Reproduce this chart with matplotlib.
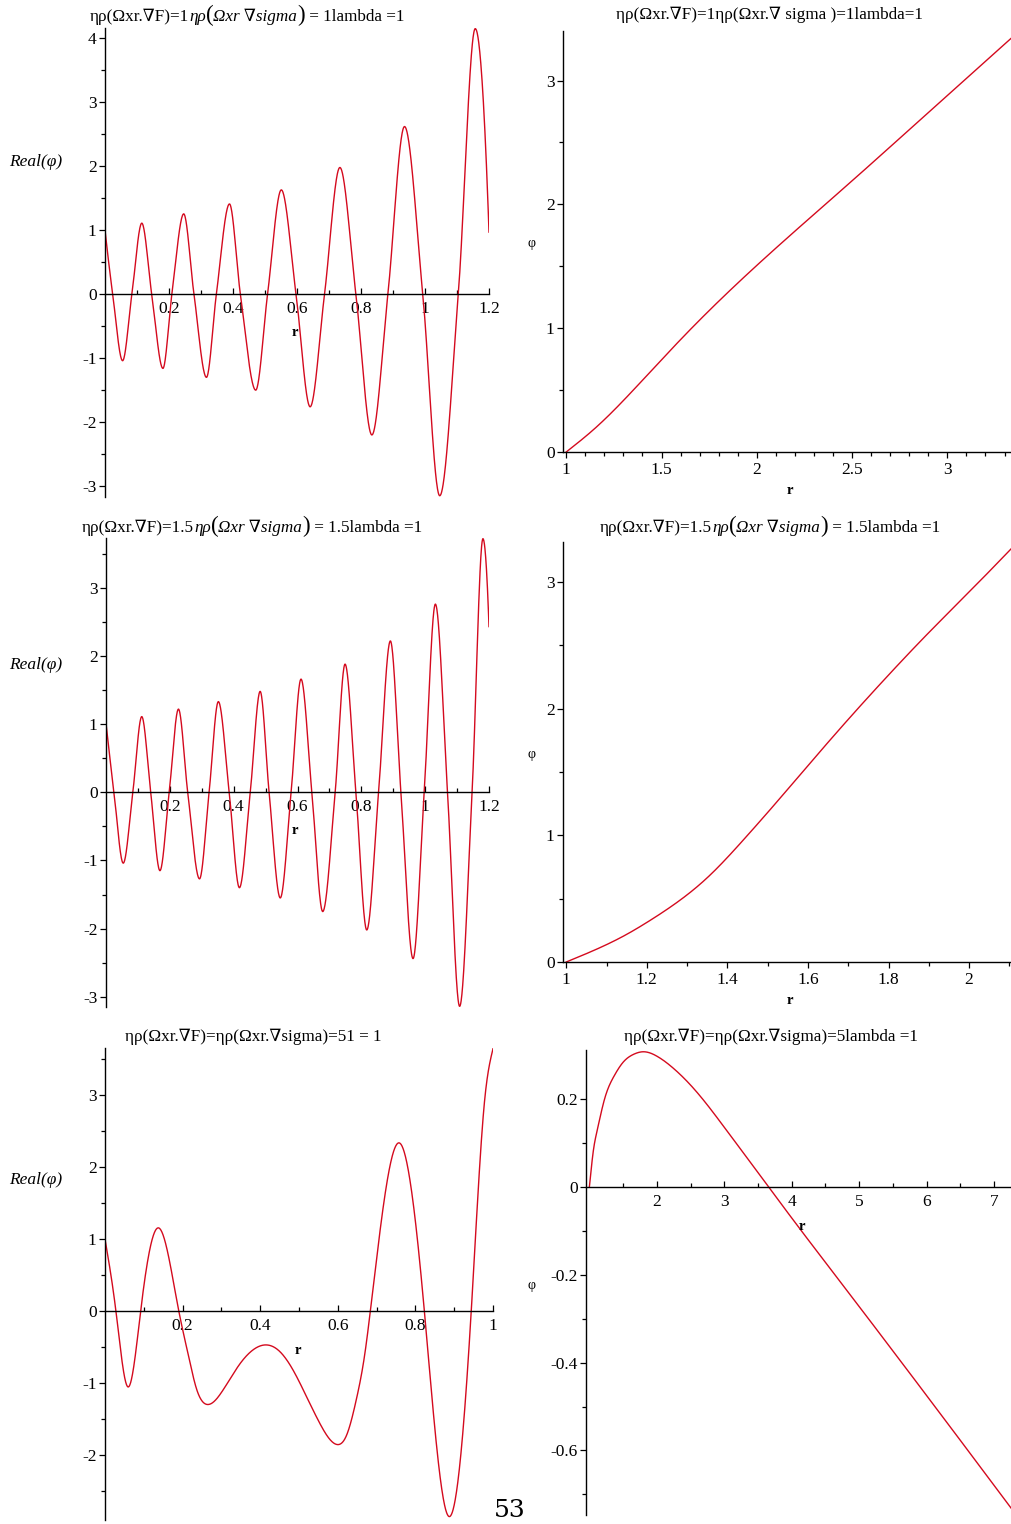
import numpy as np
import matplotlib
matplotlib.use("Agg")
import matplotlib.pyplot as plt
from matplotlib.ticker import FixedLocator, FixedFormatter
from matplotlib.offsetbox import TextArea, HPacker, AnchoredOffsetbox

plt.rcParams['axes.unicode_minus'] = False
SERIF = ['Liberation Serif', 'DejaVu Serif']
plt.rcParams['font.family'] = SERIF

# ---------------- data ----------------
# Panel 1: eta rho = 1 (oscillating, Real(phi))
p1_r = [0, 0.024, 0.055, 0.084, 0.115, 0.146, 0.181, 0.209, 0.246, 0.278, 0.317, 0.348,
        0.389, 0.423, 0.471, 0.508, 0.551, 0.597, 0.641, 0.686, 0.734, 0.784, 0.834,
        0.884, 0.936, 0.993, 1.046, 1.104, 1.157, 1.2]
p1_phi = [1.0, 0, -1.04, 0, 1.11, 0, -1.16, 0, 1.255, 0, -1.30, 0,
          1.41, 0, -1.50, 0, 1.63, 0, -1.76, 0, 1.98, 0, -2.20,
          0, 2.62, 0, -3.15, 0, 4.15, 0.97]

# Panel 2: eta rho = 1 (phi, r >= 1)
p2_r = [1.0, 1.15, 1.352, 1.5, 1.658, 2.0, 2.5, 3.0, 3.334]
p2_phi = [0, 0.19, 0.50, 0.745, 1.0, 1.507, 2.19, 2.88, 3.34]

# Panel 3: eta rho = 1.5 (oscillating, Real(phi))
p3_r = [0, 0.025, 0.054, 0.084, 0.112, 0.140, 0.169, 0.198, 0.227, 0.256, 0.293, 0.323,
        0.352, 0.386, 0.418, 0.452, 0.483, 0.511, 0.546, 0.580, 0.611, 0.645, 0.679,
        0.718, 0.749, 0.783, 0.817, 0.854, 0.891, 0.924, 0.962, 0.997, 1.032, 1.070,
        1.108, 1.147, 1.181, 1.2]
p3_phi = [1.01, 0, -1.04, 0, 1.11, 0, -1.15, 0, 1.22, 0, -1.27, 0,
          1.33, 0, -1.40, 0, 1.48, 0, -1.55, 0, 1.66, 0, -1.75,
          0, 1.88, 0, -2.02, 0, 2.22, 0, -2.44, 0, 2.76, 0,
          -3.14, 0, 3.72, 2.43]

# Panel 4: eta rho = 1.5 (phi, r >= 1)
p4_r = [1.0, 1.05, 1.1, 1.15, 1.2, 1.25, 1.3, 1.35, 1.4, 1.45, 1.5, 1.6, 1.7, 1.8, 1.9,
        2.0, 2.104]
p4_phi = [0, 0.066, 0.137, 0.218, 0.312, 0.415, 0.530, 0.665, 0.825, 1.0, 1.18, 1.55,
          1.915, 2.265, 2.60, 2.92, 3.26]

# Panel 5: eta rho = 5 (Real(phi))
p5_r = [0, 0.028, 0.059, 0.092, 0.138, 0.190, 0.215, 0.236, 0.265, 0.301, 0.345, 0.379,
        0.412, 0.448, 0.483, 0.518, 0.552, 0.578, 0.597, 0.622, 0.648, 0.669, 0.684,
        0.759, 0.823, 0.886, 0.944, 0.978, 1.0]
p5_phi = [0.995, 0, -1.06, 0, 1.15, 0, -0.625, -1.09, -1.305, -1.13, -0.76, -0.556,
          -0.477, -0.556, -0.81, -1.18, -1.55, -1.78, -1.86, -1.74, -1.23, -0.625, 0,
          2.33, 0, -2.86, 0, 2.90, 3.64]

# Panel 6: eta rho = 5 (phi, r >= 1)
p6_r = [1.0, 1.03, 1.06, 1.11, 1.23, 1.36, 1.505, 1.653, 1.80, 2.0, 2.248, 2.495, 2.743,
        3.0, 3.238, 3.485, 3.658, 3.88, 4.129, 4.69, 5.68, 6.67, 7.25]
p6_phi = [0, 0.045, 0.084, 0.125, 0.203, 0.251, 0.285, 0.302, 0.308, 0.298, 0.270, 0.233,
          0.188, 0.136, 0.087, 0.036, 0, -0.046, -0.097, -0.210, -0.410, -0.612, -0.731]

# tick values / labels
osc_xticks = [0.2, 0.4, 0.6, 0.8, 1, 1.2]
osc_xlabels = ['0.2', '0.4', '0.6', '0.8', '1', '1.2']
p1_yticks = [-3, -2, -1, 0, 1, 2, 3, 4]
p3_yticks = [-3, -2, -1, 0, 1, 2, 3]
p5_xticks = [0.2, 0.4, 0.6, 0.8, 1]
p5_xlabels = ['0.2', '0.4', '0.6', '0.8', '1']
p5_yticks = [-2, -1, 0, 1, 2, 3]
p2_xticks = [1, 1.5, 2, 2.5, 3]
p2_xlabels = ['1', '1.5', '2', '2.5', '3']
p4_xticks = [1, 1.2, 1.4, 1.6, 1.8, 2]
p4_xlabels = ['1', '1.2', '1.4', '1.6', '1.8', '2']
pos_yticks = [0, 1, 2, 3]
p6_xticks = [2, 3, 4, 5, 6, 7]
p6_xlabels = ['2', '3', '4', '5', '6', '7']
p6_yticks = [-0.6, -0.4, -0.2, 0, 0.2]
p6_ylabels = ['-0.6', '-0.4', '-0.2', '0', '0.2']

titles = [
    [("ηρ(Ωxr.∇F)=1", 'n'), ("ηρ", 'i'), ("(", 'p'), ("Ωxr ∇sigma", 'i'), (")", 'p'), (" = 1lambda =1", 'n')],
    [("ηρ(Ωxr.∇F)=1ηρ(Ωxr.∇ sigma )=1lambda=1", 'n')],
    [("ηρ(Ωxr.∇F)=1.5", 'n'), ("ηρ", 'i'), ("(", 'p'), ("Ωxr ∇sigma", 'i'), (")", 'p'), (" = 1.5lambda =1", 'n')],
    [("ηρ(Ωxr.∇F)=1.5", 'n'), ("ηρ", 'i'), ("(", 'p'), ("Ωxr ∇sigma", 'i'), (")", 'p'), (" = 1.5lambda =1", 'n')],
    [("ηρ(Ωxr.∇F)=ηρ(Ωxr.∇sigma)=51 = 1", 'n')],
    [("ηρ(Ωxr.∇F)=ηρ(Ωxr.∇sigma)=5lambda =1", 'n')],
]

# ---------------- helpers ----------------
W, H = 1011, 1524
fig = plt.figure(figsize=(W / 100, H / 100), dpi=100)
RED = '#d40a1e'
TICK_FS = 12.5


def hermite(x, y, m, n):
    h = np.diff(x)
    xs = np.linspace(x[0], x[-1], n)
    idx = np.clip(np.searchsorted(x, xs) - 1, 0, len(h) - 1)
    t = (xs - x[idx]) / h[idx]
    h00 = 2 * t**3 - 3 * t**2 + 1
    h10 = t**3 - 2 * t**2 + t
    h01 = -2 * t**3 + 3 * t**2
    h11 = t**3 - t**2
    ys = h00 * y[idx] + h10 * h[idx] * m[idx] + h01 * y[idx + 1] + h11 * h[idx] * m[idx + 1]
    return xs, ys


def pchip(x, y, n=1500):
    """Monotone cubic rendering through the read points (oscillating curves)."""
    x = np.asarray(x, float)
    y = np.asarray(y, float)
    h = np.diff(x)
    d = np.diff(y) / h
    m = np.zeros_like(y)
    for k in range(1, len(x) - 1):
        if d[k - 1] * d[k] <= 0:
            m[k] = 0.0
        else:
            w1 = 2 * h[k] + h[k - 1]
            w2 = h[k] + 2 * h[k - 1]
            m[k] = (w1 + w2) / (w1 / d[k - 1] + w2 / d[k])

    def end(h0, h1, d0, d1):
        mm = ((2 * h0 + h1) * d0 - h0 * d1) / (h0 + h1)
        if np.sign(mm) != np.sign(d0):
            return 0.0
        if np.sign(d0) != np.sign(d1) and abs(mm) > 3 * abs(d0):
            return 3 * d0
        return mm
    m[0] = end(h[0], h[1], d[0], d[1])
    m[-1] = end(h[-1], h[-2], d[-1], d[-2])
    return hermite(x, y, m, n)


def spline(x, y, n=1500):
    """Natural cubic spline rendering through the read points (smooth curves)."""
    x = np.asarray(x, float)
    y = np.asarray(y, float)
    N = len(x)
    h = np.diff(x)
    A = np.zeros((N, N))
    b = np.zeros(N)
    A[0, 0] = 1.0
    A[-1, -1] = 1.0
    for i in range(1, N - 1):
        A[i, i - 1] = h[i - 1]
        A[i, i] = 2 * (h[i - 1] + h[i])
        A[i, i + 1] = h[i]
        b[i] = 6 * ((y[i + 1] - y[i]) / h[i] - (y[i] - y[i - 1]) / h[i - 1])
    M = np.linalg.solve(A, b)
    xs = np.linspace(x[0], x[-1], n)
    idx = np.clip(np.searchsorted(x, xs) - 1, 0, N - 2)
    x0, x1 = x[idx], x[idx + 1]
    hh = h[idx]
    ys = (M[idx] * (x1 - xs) ** 3 / (6 * hh) + M[idx + 1] * (xs - x0) ** 3 / (6 * hh)
          + (y[idx] / hh - M[idx] * hh / 6) * (x1 - xs)
          + (y[idx + 1] / hh - M[idx + 1] * hh / 6) * (xs - x0))
    return xs, ys


def make_ax(L, R, T, B):
    return fig.add_axes([L / W, 1 - B / H, (R - L) / W, (B - T) / H])


def style(ax, xlim, ylim, xmaj, xlab, xmin, ymaj, ylab, ymin, zero_axis):
    ax.set_xlim(*xlim)
    ax.set_ylim(*ylim)
    for s in ['top', 'right']:
        ax.spines[s].set_visible(False)
    if zero_axis:
        ax.spines['bottom'].set_position(('data', 0))
    ax.spines['left'].set_linewidth(1.0)
    ax.spines['bottom'].set_linewidth(1.0)
    ax.xaxis.set_major_locator(FixedLocator(xmaj))
    ax.xaxis.set_major_formatter(FixedFormatter(xlab))
    ax.xaxis.set_minor_locator(FixedLocator(xmin))
    ax.yaxis.set_major_locator(FixedLocator(ymaj))
    ax.yaxis.set_major_formatter(FixedFormatter(ylab))
    ax.yaxis.set_minor_locator(FixedLocator(ymin))
    xdir = 'in' if zero_axis else 'out'
    ax.tick_params(axis='x', which='major', direction=xdir, length=4, width=0.9,
                   labelsize=TICK_FS, pad=5 if zero_axis else 3)
    ax.tick_params(axis='x', which='minor', direction=xdir, length=3, width=0.9)
    ax.tick_params(axis='y', which='major', direction='out', length=4, width=0.9,
                   labelsize=TICK_FS, pad=2)
    ax.tick_params(axis='y', which='minor', direction='out', length=3, width=0.9)
    for lab in ax.get_xticklabels() + ax.get_yticklabels():
        lab.set_family(SERIF)
    ax.patch.set_alpha(0)


def put_title(cx, cy, parts, fs=12.3):
    children = []
    for txt, kind in parts:
        props = dict(fontsize=fs, family=SERIF, color='black')
        if kind == 'i':
            props['fontstyle'] = 'italic'
        if kind == 'p':
            props['fontsize'] = fs * 1.35
        children.append(TextArea(txt, textprops=props))
    box = HPacker(children=children, align='baseline', pad=0, sep=0)
    anch = AnchoredOffsetbox(loc='center', child=box, frameon=False, pad=0, borderpad=0,
                             bbox_to_anchor=(cx / W, 1 - cy / H),
                             bbox_transform=fig.transFigure)
    fig.add_artist(anch)


def ftext(x, y, s, **kw):
    fig.text(x / W, 1 - y / H, s, ha='center', va='center', **kw)


# ---------------- panel 1 ----------------
ax1 = make_ax(105, 489, 28, 497)
xs, ys = pchip(p1_r, p1_phi)
ax1.plot(xs, ys, color=RED, lw=1.0)
style(ax1, (0, 1.2), (-3.17, 4.16), osc_xticks, osc_xlabels,
      [0.1, 0.3, 0.5, 0.7, 0.9, 1.1],
      p1_yticks, [str(v) for v in p1_yticks], [-2.5, -1.5, -0.5, 0.5, 1.5, 2.5, 3.5], True)

# ---------------- panel 2 ----------------
ax2 = make_ax(563, 1011, 31, 452)
xs, ys = spline(p2_r, p2_phi)
ax2.plot(xs, ys, color=RED, lw=1.0)
p2_minor = [round(1 + 0.1 * k, 2) for k in range(1, 24) if k % 5 != 0]
style(ax2, (0.983, 3.334), (0, 3.40), p2_xticks, p2_xlabels, p2_minor,
      pos_yticks, [str(v) for v in pos_yticks], [0.5, 1.5, 2.5], False)

# ---------------- panel 3 ----------------
ax3 = make_ax(106, 489, 538, 1007)
xs, ys = pchip(p3_r, p3_phi)
ax3.plot(xs, ys, color=RED, lw=1.0)
style(ax3, (0, 1.2), (-3.15, 3.73), osc_xticks, osc_xlabels,
      [0.1, 0.3, 0.5, 0.7, 0.9, 1.1],
      p3_yticks, [str(v) for v in p3_yticks], [-2.5, -1.5, -0.5, 0.5, 1.5, 2.5, 3.5], True)

# ---------------- panel 4 ----------------
ax4 = make_ax(563, 1011, 542, 962)
xs, ys = spline(p4_r, p4_phi)
ax4.plot(xs, ys, color=RED, lw=1.0)
style(ax4, (0.992, 2.104), (0, 3.315), p4_xticks, p4_xlabels,
      [1.1, 1.3, 1.5, 1.7, 1.9, 2.1],
      pos_yticks, [str(v) for v in pos_yticks], [0.5, 1.5, 2.5], False)

# ---------------- panel 5 ----------------
ax5 = make_ax(105, 493, 1048, 1520)
xs, ys = spline(p5_r, p5_phi)
ax5.plot(xs, ys, color=RED, lw=1.0)
style(ax5, (0, 1.0), (-2.91, 3.65), p5_xticks, p5_xlabels,
      [0.1, 0.3, 0.5, 0.7, 0.9],
      p5_yticks, [str(v) for v in p5_yticks], [-2.5, -1.5, -0.5, 0.5, 1.5, 2.5, 3.5], True)

# ---------------- panel 6 ----------------
ax6 = make_ax(586, 1011, 1050, 1515)
xs, ys = spline(p6_r, p6_phi)
ax6.plot(xs, ys, color=RED, lw=1.0)
style(ax6, (0.95, 7.25), (-0.747, 0.312), p6_xticks, p6_xlabels,
      [1.5, 2.5, 3.5, 4.5, 5.5, 6.5],
      p6_yticks, p6_ylabels, [-0.7, -0.5, -0.3, -0.1, 0.1], True)

# ---------------- titles & labels ----------------
title_pos = [(247, 15), (770, 15), (252, 526), (770, 526), (253, 1037), (771, 1037)]
for (cx, cy), parts in zip(title_pos, titles):
    put_title(cx, cy, parts)

for y in (162, 665, 1180):
    ftext(36, y, "Real(φ)", fontsize=12.5, fontstyle='italic', family=SERIF)
for y in (243, 755, 1285):
    ftext(531, y, "φ", fontsize=10, family=SERIF)
for (x, y) in [(295, 332), (790, 491), (295, 831), (790, 1001), (298, 1350), (802, 1227)]:
    ftext(x, y, "r", fontsize=10.5, fontweight='bold', family=SERIF)

# page number (at the bottom edge)
fig.text(510 / W, 2 / H, "53", ha='center', va='bottom', fontsize=18, family=['DejaVu Serif'])

fig.savefig("out.png", dpi=100)
